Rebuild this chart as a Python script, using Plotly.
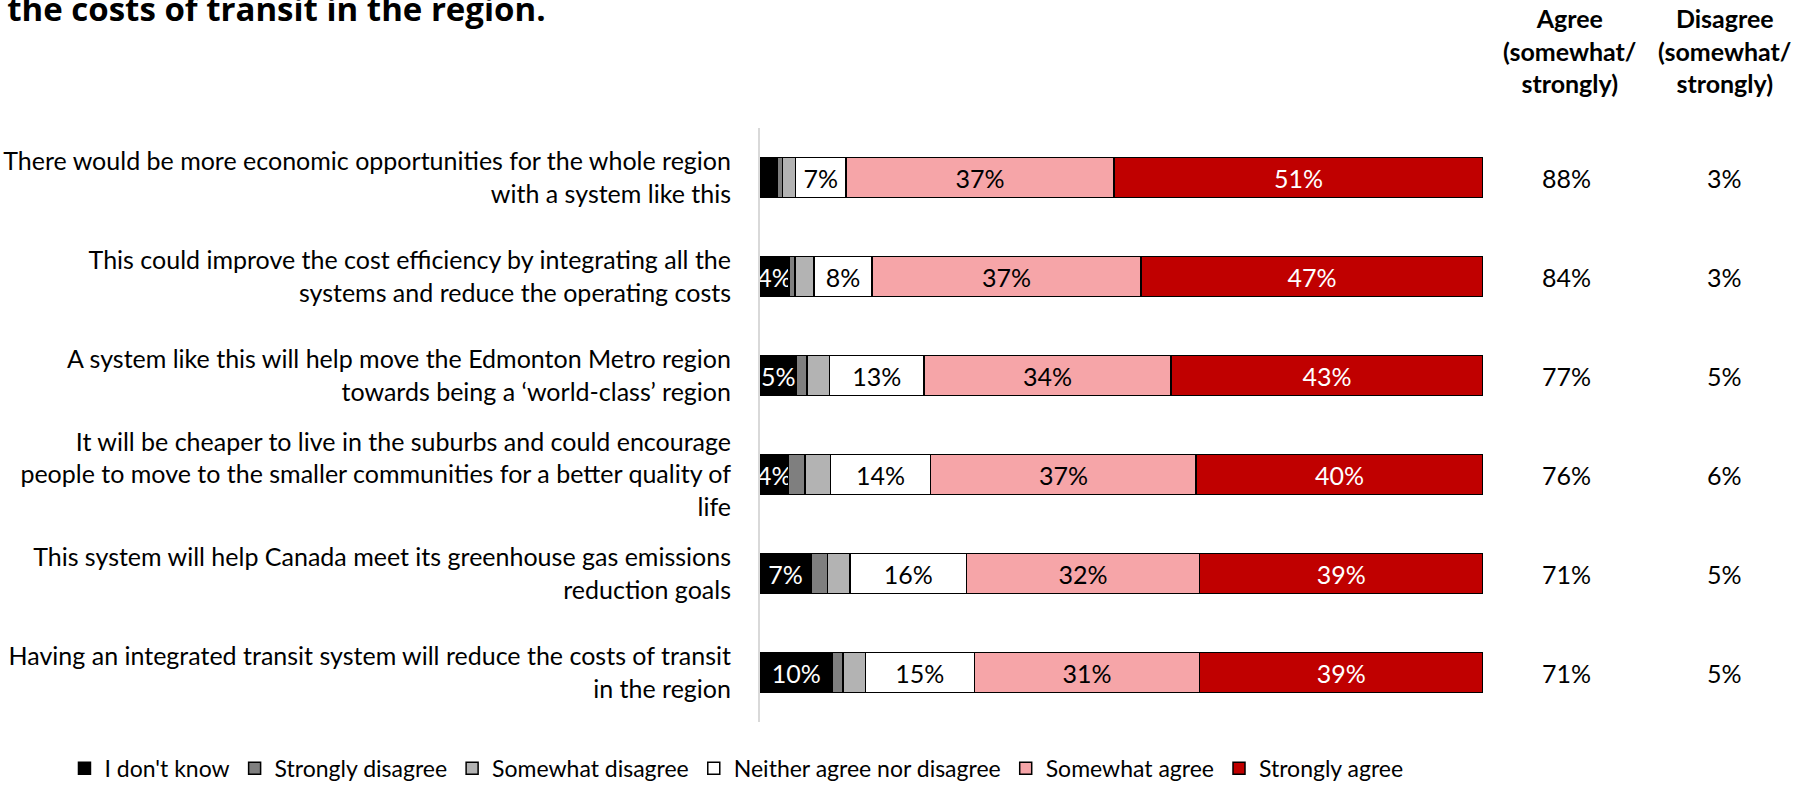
import plotly.graph_objects as go

# Survey statements (top to bottom)
statements = [
    "There would be more economic opportunities for the whole region<br>with a system like this",
    "This could improve the cost efficiency by integrating all the<br>systems and reduce the operating costs",
    "A system like this will help move the Edmonton Metro region<br>towards being a \u2018world-class\u2019 region",
    "It will be cheaper to live in the suburbs and could encourage<br>people to move to the smaller communities for a better quality of<br>life",
    "This system will help Canada meet its greenhouse gas emissions<br>reduction goals",
    "Having an integrated transit system will reduce the costs of transit<br>in the region",
]

# Response shares (%)
dont_know = [2.4, 4, 5, 4, 7, 10]
strongly_disagree = [0.7, 0.8, 1.5, 2.3, 2.3, 1.4]
somewhat_disagree = [1.8, 2.6, 3.1, 3.5, 3.1, 3.1]
neither = [7, 8, 13, 14, 16, 15]
somewhat_agree = [37, 37, 34, 37, 32, 31]
strongly_agree = [51, 47, 43, 40, 39, 39]

# Net totals shown beside the bars
agree_total = [88, 84, 77, 76, 71, 71]
disagree_total = [3, 3, 5, 6, 5, 5]

FONT = "Lato"
FS = 25

series = [
    ("I don't know", dont_know, "#000000", "white", True),
    ("Strongly disagree", strongly_disagree, "#7f7f7f", "black", False),
    ("Somewhat disagree", somewhat_disagree, "#b3b3b3", "black", False),
    ("Neither agree nor disagree", neither, "#ffffff", "black", True),
    ("Somewhat agree", somewhat_agree, "#f6a5a8", "black", True),
    ("Strongly agree", strongly_agree, "#c00000", "white", True),
]

fig = go.Figure()
for name, vals, color, tcolor, labelled in series:
    if labelled:
        text = [f"{v:g}%" if v >= 3 else "" for v in vals]
    else:
        text = [""] * len(vals)
    fig.add_trace(go.Bar(
        name=name,
        y=statements,
        x=vals,
        orientation="h",
        marker=dict(color=color, line=dict(color="black", width=1.5)),
        text=text,
        texttemplate="%{text}",
        textposition="inside",
        insidetextanchor="middle",
        textangle=0,
        constraintext="none",
        textfont=dict(family=FONT, size=FS, color=tcolor),
        hoverinfo="name+x",
    ))

for stmt, a, d in zip(statements, agree_total, disagree_total):
    fig.add_annotation(x=1.116, y=stmt, xref="paper", yref="y", text=f"{a}%",
                       xanchor="center", showarrow=False,
                       font=dict(family=FONT, size=FS, color="black"))
    fig.add_annotation(x=1.334, y=stmt, xref="paper", yref="y", text=f"{d}%",
                       xanchor="center", showarrow=False,
                       font=dict(family=FONT, size=FS, color="black"))

for x, label in [(1.12, "<b>Agree<br>(somewhat/<br>strongly)</b>"),
                 (1.335, "<b>Disagree<br>(somewhat/<br>strongly)</b>")]:
    fig.add_annotation(x=x, y=1.213, xref="paper", yref="paper",
                       xanchor="center", yanchor="top",
                       text=label, showarrow=False,
                       font=dict(family=FONT, size=FS, color="black"))

fig.update_layout(
    width=1801, height=788,
    margin=dict(l=760, r=318, t=128, b=66, autoexpand=False),
    barmode="stack",
    barnorm="percent",
    bargap=0.595,
    paper_bgcolor="white",
    plot_bgcolor="white",
    font=dict(family=FONT, size=FS, color="black"),
    title=dict(text="<b>the costs of transit in the region.</b>",
               x=0.004, xanchor="left", xref="container",
               y=0.9886, yanchor="middle", yref="container",
               font=dict(family="Open Sans", size=33, color="black")),
    xaxis=dict(range=[0, 100], visible=False, fixedrange=True),
    yaxis=dict(autorange="reversed", showline=True, linecolor="#d9d9d9", linewidth=2,
               ticks="", ticklabelstandoff=22, showgrid=False, fixedrange=True,
               automargin=False,
               tickfont=dict(family=FONT, size=FS, color="black")),
    legend=dict(orientation="h", x=-0.962, xanchor="left", y=-0.078, yanchor="middle",
                traceorder="normal", font=dict(family=FONT, size=23, color="black"),
                itemclick=False, itemdoubleclick=False),
    showlegend=True,
)

fig.write_html("out.html")
